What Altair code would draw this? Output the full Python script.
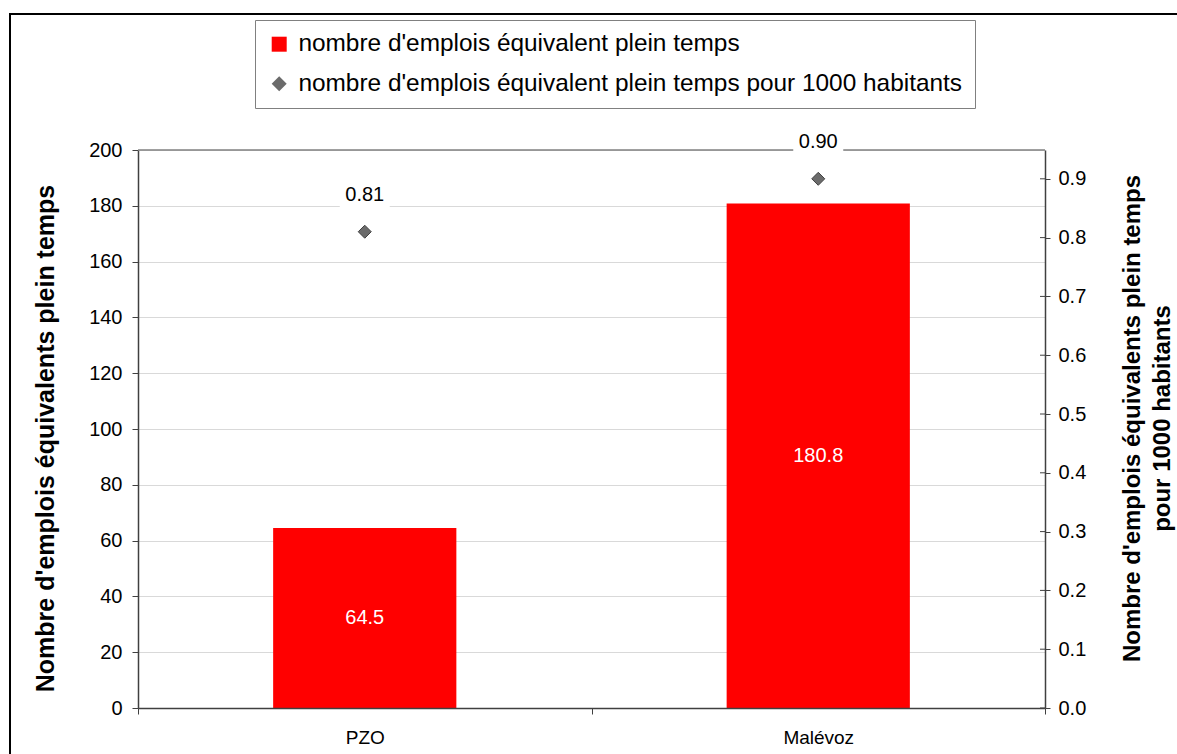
import altair as alt
import pandas as pd

# --- data -----------------------------------------------------------------
sites = ["PZO", "Malévoz"]
emplois_etp = [64.5, 180.8]
etp_pour_1000 = [0.81, 0.90]

graduations_gauche = [0, 20, 40, 60, 80, 100, 120, 140, 160, 180, 200]
graduations_droite = [0.0, 0.1, 0.2, 0.3, 0.4, 0.5, 0.6, 0.7, 0.8, 0.9]

serie_barres = "nombre d'emplois équivalent plein temps"
serie_points = "nombre d'emplois équivalent plein temps pour 1000 habitants"
titre_gauche = "Nombre d'emplois équivalents plein temps"
titre_droite = ["Nombre d'emplois équivalents plein temps", "pour 1000 habitants"]

# --- layout ---------------------------------------------------------------
W, H = 907, 558
FONT = "Liberation Sans"
ROUGE = "#ff0000"
GRIS = "#6b6b6b"
LABEL_DY = -37

df = pd.DataFrame({
    "site": sites,
    "etp": emplois_etp,
    "ratio": etp_pour_1000,
    "serie": [serie_points] * len(sites),
})
df_grad = pd.DataFrame({"v": graduations_droite})
df_un = pd.DataFrame({"k": [0]})

# one full-width band per site, so category ticks fall on the band edges
x_scale = alt.Scale(domain=sites, paddingInner=0, paddingOuter=0)
y_gauche = alt.Scale(domain=[0, 200], nice=False)
y_droite = alt.Scale(domain=[0, 0.949], nice=False)

# secondary layers only share the scales; axis settings come from the main layers
x_plain = alt.X("site:N", scale=x_scale)

# --- left scale: bars -----------------------------------------------------
barres = alt.Chart(df).mark_bar(color=ROUGE, width=alt.RelativeBandSize(0.404)).encode(
    x=alt.X(
        "site:N", scale=x_scale, title=None,
        axis=alt.Axis(
            tickBand="extent", tickSize=6, labelAngle=0, labelFontSize=19,
            labelPadding=14, domainColor="#404040", tickColor="#404040",
            domainWidth=1.5, zindex=1, grid=False,
        ),
    ),
    y=alt.Y(
        "etp:Q", scale=y_gauche,
        axis=alt.Axis(
            values=graduations_gauche, title=titre_gauche, grid=True,
            gridColor="#d9d9d9", tickSize=6, labelPadding=10, labelFontSize=20,
            titleFontSize=25, titleFontWeight="bold", titleAngle=270,
            titleX=-93, titleY=288, titleBaseline="middle", titleAlign="center",
            domainColor="#404040", tickColor="#404040", domainWidth=1.5,
        ),
    ),
)

barres_txt = alt.Chart(df).transform_calculate(mi="datum.etp / 2").mark_text(
    color="white", fontSize=20, baseline="middle"
).encode(
    x=x_plain,
    y=alt.Y("mi:Q", scale=y_gauche),
    text=alt.Text("etp:Q", format=".1f"),
)

gauche = alt.layer(barres, barres_txt)

# --- right scale: per 1000 inhabitants -------------------------------------
bord_haut = alt.Chart(df_un).mark_rule(color="#808080", strokeWidth=1.5).encode(
    x=alt.value(0), x2=alt.value(W), y=alt.value(0)
)

fond_txt = alt.Chart(df).mark_point(
    shape="M-1,-0.52L1,-0.52L1,0.52L-1,0.52Z", size=2500, filled=True,
    color="white", opacity=1, strokeWidth=0, yOffset=LABEL_DY,
).encode(x=x_plain, y=alt.Y("ratio:Q", scale=y_droite))

points_txt = alt.Chart(df).mark_text(
    fontSize=20, baseline="middle", color="black", dy=LABEL_DY
).encode(
    x=x_plain,
    y=alt.Y("ratio:Q", scale=y_droite),
    text=alt.Text("ratio:Q", format=".2f"),
)

legende = alt.Legend(
    title=None, orient="none", legendX=117, legendY=-130, direction="vertical",
    labelFontSize=24.4, labelFont=FONT, labelColor="black", labelLimit=1000,
    symbolSize=225, symbolStrokeWidth=0, strokeColor="#808080",
    fillColor="white", padding=12, rowPadding=14.5, labelOffset=7,
)

points = alt.Chart(df).mark_point(
    filled=True, size=169, stroke="#404040", strokeWidth=1, opacity=1
).encode(
    x=x_plain,
    y=alt.Y(
        "ratio:Q", scale=y_droite,
        axis=alt.Axis(
            orient="right", values=graduations_droite, format=".1f", grid=False,
            tickSize=5, labelPadding=8, labelFontSize=20, title=titre_droite,
            titleFontSize=24, titleFontWeight="bold", titleAngle=270,
            titleX=87, titleY=268, titleBaseline="middle", titleAlign="center",
            titleLineHeight=30, domainColor="#404040", tickColor="#404040",
            domainWidth=1.5,
        ),
    ),
    color=alt.Color(
        "serie:N",
        scale=alt.Scale(domain=[serie_barres, serie_points], range=[ROUGE, GRIS]),
        legend=legende,
    ),
    shape=alt.Shape(
        "serie:N",
        scale=alt.Scale(domain=[serie_barres, serie_points], range=["square", "diamond"]),
        legend=legende,
    ),
)

# inner half of the right-axis ticks
graduations_int = alt.Chart(df_grad).mark_rule(color="#404040").encode(
    x=alt.value(W - 5), x2=alt.value(W),
    y=alt.Y("v:Q", scale=y_droite),
)

droite = alt.layer(bord_haut, fond_txt, points_txt, points, graduations_int)

# outer frame of the figure, stroke only
cadre = alt.Chart(df_un).mark_rect(filled=False, stroke="black", strokeWidth=2).encode(
    x=alt.value(-128), x2=alt.value(1120), y=alt.value(-136), y2=alt.value(700)
)

chart = (
    alt.layer(gauche, droite, cadre)
    .resolve_scale(y="independent")
    .properties(
        width=W, height=H,
        autosize=alt.AutoSizeParams(type="none"),
        padding={"left": 138, "top": 150, "right": 132, "bottom": 46},
        background="white",
    )
    .configure_view(strokeWidth=0)
    .configure_axis(labelFont=FONT, titleFont=FONT, labelColor="black", titleColor="black")
    .configure_text(font=FONT)
    .configure_legend(labelFont=FONT)
)

chart.save("out.html", embed_options={"renderer": "svg", "actions": False})
